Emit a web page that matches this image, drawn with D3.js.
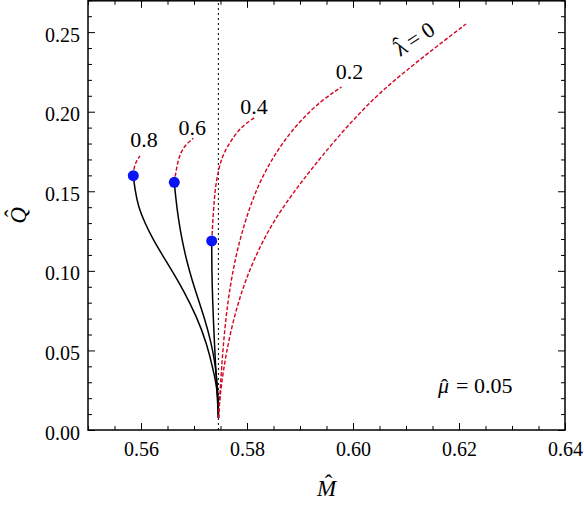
<!DOCTYPE html>
<html>
<head>
<meta charset="utf-8">
<script src="https://cdn.jsdelivr.net/npm/d3@7"></script>
<style>
  body { margin: 0; background: #fff; font-family: "Liberation Serif"; }
</style>
</head>
<body>
<svg id="chart" width="584" height="509" font-family="Liberation Serif">
  <!-- written in the markup so the serif faces are loaded before d3 adds the rest -->
  <g id="mu-note" transform="translate(438,393)">
    <text x="0" font-size="22" font-style="italic" font-family="Liberation Serif">μ</text>
    <text x="6.5" y="1" font-size="22" text-anchor="middle" font-family="Liberation Serif">ˆ</text>
    <text x="18" font-size="22" font-family="Liberation Serif">= 0.05</text>
  </g>
</svg>
<script>
// M-hat / Q-hat pairs
const lambdaLabels = ["0.8", "0.6", "0.4", "0.2"];

// stable branches (solid black), from the onset point down to the common tip
const stable08 = [[0.55855, 0.1598], [0.55887, 0.1508], [0.55949, 0.1403], [0.56075, 0.1299], [0.56232, 0.1194],
  [0.56421, 0.1089], [0.56594, 0.0996], [0.56798, 0.0880], [0.57051, 0.0712], [0.57240, 0.0545], [0.57364, 0.0377],
  [0.57428, 0.0272], [0.57458, 0.0170], [0.57460, 0.0075]];
const stable06 = [[0.56628, 0.1556], [0.56660, 0.1445], [0.56708, 0.1320], [0.56774, 0.1194], [0.56858, 0.1068],
  [0.56962, 0.0943], [0.57085, 0.0817], [0.57208, 0.0691], [0.57311, 0.0566], [0.57387, 0.0440], [0.57434, 0.0314],
  [0.57458, 0.0189], [0.57462, 0.0075]];
const stable04 = [[0.57334, 0.1188], [0.57336, 0.1005], [0.57351, 0.0817], [0.57374, 0.0628], [0.57402, 0.0440],
  [0.57432, 0.0251], [0.57462, 0.0075]];

// unstable branches (dashed red)
const unstable08 = [[0.55855, 0.1598], [0.55868, 0.1654], [0.55925, 0.1697], [0.55981, 0.1722]];
const unstable06 = [[0.56628, 0.1556], [0.56674, 0.1654], [0.56736, 0.1739], [0.56862, 0.1801], [0.56987, 0.1833]];
const unstable04 = [[0.57334, 0.1188], [0.57364, 0.1362], [0.57396, 0.1508], [0.57458, 0.1634], [0.57553, 0.1739],
  [0.57742, 0.1843], [0.57930, 0.1916], [0.58151, 0.1965]];
const unstable02 = [[0.57462, 0.0075], [0.57483, 0.0189], [0.57521, 0.0396], [0.57572, 0.0609], [0.57642, 0.0817],
  [0.57736, 0.1005], [0.57840, 0.1162], [0.57972, 0.1320], [0.58170, 0.1508], [0.58425, 0.1678], [0.58708, 0.1822],
  [0.59019, 0.1948], [0.59415, 0.2074], [0.59783, 0.2155]];
const unstable00 = [[0.57462, 0.0075], [0.57475, 0.0145], [0.57509, 0.0270], [0.57594, 0.0459], [0.57726, 0.0672],
  [0.57906, 0.0880], [0.58123, 0.1068], [0.58434, 0.1276], [0.58774, 0.1445], [0.59057, 0.1571], [0.59396, 0.1715],
  [0.59877, 0.1904], [0.60415, 0.2092], [0.60943, 0.2243], [0.61566, 0.2407], [0.62132, 0.2551]];

// onset of instability (blue dots)
const onsetM = [0.55855, 0.56628, 0.57334];
const onsetQ = [0.1598, 0.1556, 0.1188];

// vertical reference line
const refM = 0.5746;

const xMajor = [0.56, 0.58, 0.60, 0.62, 0.64];
const yMajor = [0, 0.05, 0.10, 0.15, 0.20, 0.25];

const FONT = 'Liberation Serif';

const svg = d3.select('#chart');
const mLeft = 88, mRight = 565, mTop = 0.8, mBottom = 430;

const x = d3.scaleLinear().domain([0.55, 0.64]).range([mLeft, mRight]);
const y = d3.scaleLinear().domain([0, 0.27]).range([mBottom, 0.3]);

const xMinor = d3.range(0.55, 0.6401, 0.005).filter(v => !xMajor.some(m => Math.abs(m - v) < 1e-6));
const yMinor = d3.range(0, 0.2701, 0.01).filter(v => !yMajor.some(m => Math.abs(m - v) < 1e-6));

const fmt = d3.format('.2f');

function serif(sel) {
  return sel.attr('font-family', FONT).style('font-family', FONT);
}

function styleAxis(g) {
  g.attr('font-size', 20).attr('font-family', FONT);
  g.select('.domain').remove();
  g.selectAll('line').attr('stroke', '#000').attr('stroke-width', 1);
  g.selectAll('text').attr('fill', '#000').attr('font-size', 20).call(serif);
}

// bottom axis
svg.append('g').attr('transform', `translate(0,${mBottom})`)
  .call(d3.axisBottom(x).tickValues(xMajor).tickFormat(fmt).tickSizeInner(-7).tickSizeOuter(0).tickPadding(12))
  .call(styleAxis);
svg.append('g').attr('transform', `translate(0,${mBottom})`)
  .call(d3.axisBottom(x).tickValues(xMinor).tickFormat('').tickSizeInner(-4).tickSizeOuter(0))
  .call(styleAxis);
// top axis
svg.append('g').attr('transform', `translate(0,${mTop})`)
  .call(d3.axisTop(x).tickValues(xMajor).tickFormat('').tickSizeInner(-7).tickSizeOuter(0))
  .call(styleAxis);
svg.append('g').attr('transform', `translate(0,${mTop})`)
  .call(d3.axisTop(x).tickValues(xMinor).tickFormat('').tickSizeInner(-4).tickSizeOuter(0))
  .call(styleAxis);
// left axis
svg.append('g').attr('transform', `translate(${mLeft},0)`)
  .call(d3.axisLeft(y).tickValues(yMajor).tickFormat(fmt).tickSizeInner(-7).tickSizeOuter(0).tickPadding(8))
  .call(styleAxis)
  .call(g => g.selectAll('text').attr('dy', '0.45em'));
svg.append('g').attr('transform', `translate(${mLeft},0)`)
  .call(d3.axisLeft(y).tickValues(yMinor).tickFormat('').tickSizeInner(-4).tickSizeOuter(0))
  .call(styleAxis);
// right axis
svg.append('g').attr('transform', `translate(${mRight},0)`)
  .call(d3.axisRight(y).tickValues(yMajor).tickFormat('').tickSizeInner(-7).tickSizeOuter(0))
  .call(styleAxis);
svg.append('g').attr('transform', `translate(${mRight},0)`)
  .call(d3.axisRight(y).tickValues(yMinor).tickFormat('').tickSizeInner(-4).tickSizeOuter(0))
  .call(styleAxis);

// frame
svg.append('rect')
  .attr('x', mLeft).attr('y', mTop)
  .attr('width', mRight - mLeft).attr('height', mBottom - mTop)
  .attr('fill', 'none').attr('stroke', '#000').attr('stroke-width', 1.5);

// dotted reference line
svg.append('line')
  .attr('x1', x(refM)).attr('x2', x(refM))
  .attr('y1', y(0)).attr('y2', y(0.27))
  .attr('stroke', '#000').attr('stroke-width', 1)
  .attr('stroke-dasharray', '2,3');

const line = d3.line()
  .x(d => x(d[0]))
  .y(d => y(d[1]))
  .curve(d3.curveBasis);

[stable08, stable06, stable04].forEach(s => {
  svg.append('path').datum(s)
    .attr('d', line)
    .attr('fill', 'none')
    .attr('stroke', '#000')
    .attr('stroke-width', 1.5);
});

const unstable = [unstable08, unstable06, unstable04, unstable02, unstable00];
unstable.forEach(s => {
  svg.append('path').datum(s)
    .attr('d', line)
    .attr('fill', 'none')
    .attr('stroke', '#d7001e')
    .attr('stroke-width', 1.4)
    .attr('stroke-dasharray', '4,2');
});

svg.selectAll('.onset')
  .data(onsetM.map((m, i) => [m, onsetQ[i]]))
  .enter().append('circle')
  .attr('class', 'onset')
  .attr('cx', d => x(d[0]))
  .attr('cy', d => y(d[1]))
  .attr('r', 5.5)
  .attr('fill', '#0a14f5');

// curve labels, placed near the upper end of each dashed branch
const labelOffsets = [[4, -9], [-1, -3], [-1, -3], [8, -8]];
lambdaLabels.forEach((t, i) => {
  const end = unstable[i][unstable[i].length - 1];
  svg.append('text')
    .attr('x', x(end[0]) + labelOffsets[i][0])
    .attr('y', y(end[1]) + labelOffsets[i][1])
    .attr('text-anchor', 'middle')
    .attr('font-size', 22)
    .call(serif)
    .text(t);
});

// letter with a circumflex drawn above it
function hatted(g, letter, italic, size, lift, shift) {
  const t = g.append('text')
    .attr('font-size', size)
    .attr('font-style', italic ? 'italic' : 'normal')
    .call(serif)
    .text(letter);
  const w = t.node().getComputedTextLength();
  g.append('text')
    .attr('x', w / 2 + shift)
    .attr('y', -lift)
    .attr('text-anchor', 'middle')
    .attr('font-size', size)
    .call(serif)
    .text('\u02c6');
  return w;
}

const end0 = unstable00[unstable00.length - 1];
const lam = svg.append('g')
  .attr('transform', `translate(${x(end0[0]) - 66},${y(end0[1]) + 33}) rotate(-33)`);
const lw = hatted(lam, '\u03bb', false, 22, 4, 0);
lam.append('text').attr('x', lw + 4).attr('font-size', 22).call(serif).text('= 0');

// axis titles
const mt = svg.append('g');
const mtw = hatted(mt, 'M', true, 23, 5, 2);
mt.attr('transform', `translate(${(mLeft + mRight) / 2 - mtw / 2},496)`);

const qt = svg.append('g');
const qtw = hatted(qt, 'Q', true, 23, 5, 2);
qt.attr('transform', `translate(26,${(mTop + mBottom) / 2 + qtw / 2}) rotate(-90)`);
</script>
</body>
</html>
